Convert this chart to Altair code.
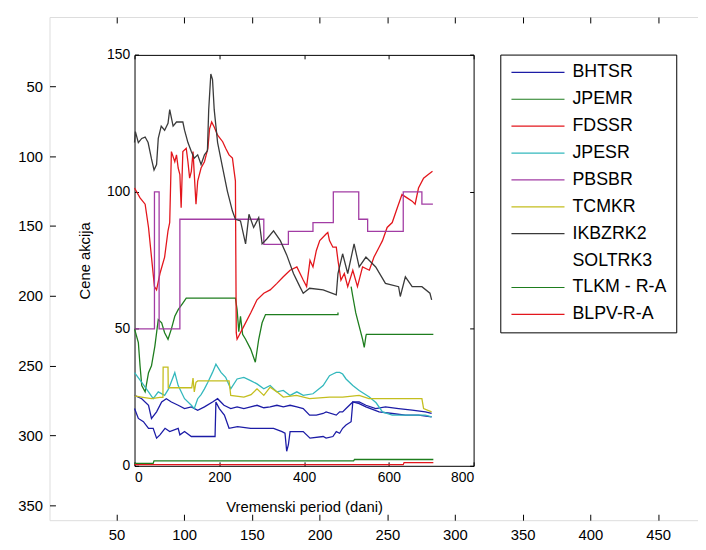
import altair as alt
import pandas as pd

# ---------------- data ----------------
SERIES = ["BHTSR", "JPEMR", "FDSSR", "JPESR", "PBSBR", "TCMKR", "IKBZRK2",
          "SOLTRK3", "TLKM - R-A", "BLPV-R-A"]
LEGEND_COLORS = ["#1c1ca6", "#1e7d1e", "#e3161c", "#33b8bd", "#a23ca4",
                 "#c4be1e", "#3a3a3a", "#ffffff", "#1e7d1e", "#e3161c"]
SOLTRK3_COLOR = "#1c1ca6"

BHTSR = [(0, 25.7), (17, 24.5), (33, 22.1), (40, 17.3), (52, 19.7), (64, 23.3), (75, 24.5),
         (87, 23.3), (103, 22.1), (118, 20.9), (134, 21.5), (149, 20.3), (165, 21.5),
         (184, 23.3), (196, 24.5), (211, 22.1), (227, 20.9), (242, 21.5), (258, 20.9),
         (274, 21.5), (289, 22.1), (305, 21.2), (320, 21.5), (336, 22.1), (351, 21.5),
         (367, 22.1), (383, 21.5), (398, 20.9), (413, 18.5), (429, 18.5), (445, 19.1),
         (452, 19.7), (476, 18.5), (484, 19.7), (491, 19.7), (499, 20.9), (515, 23.3),
         (530, 23.3), (546, 22.1), (569, 20.9), (592, 21.5), (623, 20.9), (655, 20.3),
         (686, 19.7), (701, 19.1)]

JPEMR = [(0, 50), (9, 45), (13, 36.5), (17, 29.3), (25, 27), (33, 34), (40, 36.5), (48, 43.7),
         (56, 53.4), (64, 52.2), (71, 48.6), (79, 46.2), (87, 50), (95, 54.6), (103, 57),
         (114, 59.4), (122, 61.2), (238, 61.2), (242, 57), (246, 49), (250, 54.6), (255, 48),
         (262, 46.2), (274, 42.6), (285, 37.8), (293, 46.2), (301, 52.2), (309, 55.2),
         (480, 55.2), (480, 56), None,
         (511, 65.4), (515, 61.8), (522, 55.8), (530, 51), (538, 46.2), (542, 43.2),
         (546, 47.4), (547, 48), (705, 48)]

FDSSR = [(0, 101.4), (13, 97.8), (25, 95.5), (33, 87), (40, 76.2), (47, 65.4), (52, 64.2),
         (60, 70.2), (71, 76.2), (79, 85.8), (83, 88.8), (87, 114.7), (95, 111), (99, 113.5),
         (103, 108.7), (107, 106.3), (110, 94.2), (114, 114.7), (122, 115.9), (126, 111),
         (130, 105), (134, 107.5), (138, 114.7), (141, 106.3), (145, 95.5), (149, 103.9),
         (157, 108.7), (165, 111), (173, 115.9), (177, 123), (182, 125.5), (188, 123.7),
         (196, 120.7), (208, 118.3), (215, 115.9), (223, 113.5), (231, 112.3), (235, 107.5),
         (238, 104), (240, 48.6), (242, 46.2), (258, 51), (274, 55.8), (289, 60.6), (305, 63),
         (320, 64.2), (336, 66.6), (351, 69), (367, 71.4), (383, 72.6), (398, 67.8),
         (406, 65.4), (414, 75), (421, 72.6), (429, 78.6), (437, 82.2), (452, 84.6),
         (456, 85.2), (460, 82.2), (468, 79.8), (476, 79.8), (480, 75), (487, 67.8),
         (495, 70.2), (503, 65.4), (515, 71.4), (526, 65.4), (538, 72.6), (554, 71.4),
         (565, 76.2), (577, 79.8), (585, 82.2), (596, 87), (608, 88.8), (620, 94.2),
         (631, 99), (643, 97.8), (655, 96.6), (662, 95.5), (670, 101.4), (682, 105),
         (693, 106.3), (703, 107.5)]

JPESR = [(0, 34), (17, 30.5), (33, 27), (44, 24.5), (56, 27), (71, 25.7), (80, 28), (95, 34),
         (103, 29.3), (118, 24.5), (134, 22.1), (141, 20.9), (149, 24.5), (157, 26),
         (165, 28.1), (173, 30.5), (184, 34.1), (192, 37.1), (204, 34.1), (215, 32.3),
         (227, 28.1), (242, 31.7), (258, 32.3), (274, 31.1), (289, 29.9), (305, 28.1),
         (320, 29.3), (336, 27), (351, 27.5), (367, 25.7), (383, 27), (398, 25.7),
         (421, 26.3), (445, 29.3), (460, 32.9), (468, 33.5), (476, 34.1), (484, 34.1),
         (491, 33.5), (499, 31.7), (515, 29.3), (530, 27.5), (554, 25.1), (570, 23),
         (585, 19.7), (608, 18.5), (647, 18.5), (686, 18.5), (701, 17.9)]

PBSBR = [(0, 50), (47, 50), (47, 100), (58, 100), (58, 50), (107, 50), (107, 90), (305, 90),
         (305, 80.8), (363, 80.8), (363, 85.6), (421, 85.6), (421, 88.8), (469, 88.8),
         (469, 100), (529, 100), (529, 90), (550, 90), (550, 85.6), (634, 85.6), (634, 100),
         (678, 100), (678, 95.5), (704, 95.5)]

TCMKR = [(0, 25.5), (20, 25), (40, 24.5), (60, 25), (67, 25), (67.5, 36), (79, 36),
         (79.5, 28.5), (95, 28.5), (135, 28.5), (138, 32), (141, 27), (145, 30.5), (149, 31),
         (223, 31), (227, 25.7), (258, 25.1), (275, 26), (289, 28.1), (305, 25.7), (320, 28.7),
         (336, 27), (351, 25.1), (382, 25.7), (413, 24.5), (460, 25.1), (491, 25.1),
         (530, 25.7), (553, 24.5), (608, 24.5), (678, 24.5), (682, 20.9), (701, 19.7)]

IKBZRK2 = [(0, 118), (2, 122), (9, 118), (17, 119.5), (25, 120), (32, 118), (40, 112),
           (46, 108), (52, 110), (56, 119.5), (63, 124), (71, 122.5), (79, 125), (83, 130),
           (91, 124), (99, 125.5), (107, 125.5), (114, 125.5), (118, 122.5), (126, 118),
           (134, 114.7), (141, 112.3), (149, 113.5), (157, 110), (165, 113.5), (172, 115),
           (175, 130), (180, 143), (184, 141), (188, 130), (196, 118), (208, 108.7),
           (219, 100.3), (231, 93), (238, 90), (250, 89.4), (262, 81), (270, 91.8), (281, 87),
           (293, 90.6), (301, 81), (312, 82.8), (328, 85.8), (344, 82.2), (359, 77),
           (375, 70.2), (390, 65.4), (398, 63), (413, 64.8), (445, 64.2), (476, 62.4),
           (480, 70.2), (491, 77.4), (503, 70.2), (518, 81), (530, 72.6), (546, 76.2),
           (569, 72.6), (592, 66.6), (623, 65.4), (627, 61.8), (639, 69), (655, 65.4),
           (678, 65.4), (697, 63), (701, 60.6)]

SOLTRK3 = [(0, 20.9), (9, 17.3), (21, 16.1), (33, 13.7), (44, 13.7), (52, 10.1), (60, 11.3),
           (72, 13.7), (83, 12.5), (103, 13.7), (107, 11.3), (118, 12.5), (134, 10.7),
           (173, 10.7), (190, 10.7), (192, 23.3), (200, 20.9), (212, 18.5), (223, 13.7),
           (243, 14.3), (274, 13.7), (297, 13.7), (328, 13.7), (348, 12.5), (355, 11.9),
           (359, 5.3), (363, 7.7), (367, 12.5), (398, 12.5), (414, 10.1), (445, 10.7),
           (452, 10.1), (468, 10.7), (476, 12.5), (484, 11.9), (491, 13.7), (499, 14.9),
           (511, 16.1), (515, 23.3), (530, 22.7), (546, 21.5), (577, 19.7), (608, 19.1),
           (639, 18.5), (670, 18.5), (701, 17.9)]

TLKM = [(0, 0.9), (44, 0.9), (46, 1.8), (517, 1.8), (519, 2.3), (705, 2.3)]
BLPV = [(0, 0.4), (634, 0.4), (636, 1.2), (705, 1.2)]

POINTS = {"BHTSR": BHTSR, "JPEMR": JPEMR, "FDSSR": FDSSR, "JPESR": JPESR, "PBSBR": PBSBR,
          "TCMKR": TCMKR, "IKBZRK2": IKBZRK2, "SOLTRK3": SOLTRK3, "TLKM - R-A": TLKM,
          "BLPV-R-A": BLPV}

OUT_X_TICKS = [50, 100, 150, 200, 250, 300, 350, 400, 450]
OUT_Y_TICKS = [50, 100, 150, 200, 250, 300, 350]
IN_X_TICKS = [0, 200, 400, 600, 800]
IN_Y_TICKS = [0, 50, 100, 150]


def build_rows(names):
    rows = []
    for name in names:
        seg = 0
        for i, p in enumerate(POINTS[name]):
            if p is None:
                seg += 1
                continue
            rows.append({"series": name, "seg": f"{name}#{seg}", "day": p[0],
                         "price": p[1], "idx": i})
    return pd.DataFrame(rows)


main_df = build_rows([s for s in SERIES if s != "SOLTRK3"])
sol_df = build_rows(["SOLTRK3"])
dummy = pd.DataFrame({"ox": [100.0], "oy": [100.0], "day": [100.0], "price": [10.0]})

# ---------------- layout ----------------
W, H = 656, 509
OUT_XD = [0.5, 479.5]
OUT_YD = [0.5, 360.5]
IN_XR = [86, 429]
IN_YR = [454, 38.3]
FONT = "Liberation Sans"
LW = 1.3


def ox(axis):
    return alt.X("ox:Q", scale=alt.Scale(domain=OUT_XD, nice=False, zero=False), axis=axis)


def oy(axis):
    return alt.Y("oy:Q", scale=alt.Scale(domain=OUT_YD, reverse=True, nice=False, zero=False),
                 axis=axis)


def ix(axis):
    return alt.X("day:Q", scale=alt.Scale(domain=[0, 800], range=IN_XR, nice=False, zero=False),
                 axis=axis)


def iy(axis):
    return alt.Y("price:Q", scale=alt.Scale(domain=[0, 150], range=IN_YR, nice=False, zero=False),
                 axis=axis)


common = dict(grid=False, domainColor="black", tickColor="black", labelColor="black",
              labelFont=FONT, titleFont=FONT, titleColor="black", titleFontWeight="normal",
              domainWidth=1, tickWidth=1)

invis = alt.Chart(dummy).mark_point(opacity=0)

# outer frame: inward ticks on the bottom edge + left labels
outer1 = invis.encode(
    x=ox(alt.Axis(orient="top", offset=-H, values=OUT_X_TICKS, labels=False, tickSize=6,
                  domain=False, title=None, **common)),
    y=oy(alt.Axis(orient="left", values=OUT_Y_TICKS, ticks=False, tickSize=0, labelPadding=7,
                  domain=False, labelFontSize=15, title=None, **common)),
)
# outer bottom labels + left inward ticks
outer2 = invis.encode(
    x=ox(alt.Axis(orient="bottom", values=OUT_X_TICKS, ticks=False, tickSize=0, domain=False,
                  labelPadding=8, labelFontSize=15, title=None, **common)),
    y=oy(alt.Axis(orient="right", offset=-W, values=OUT_Y_TICKS, labels=False, tickSize=6,
                  domain=False, title=None, **common)),
)
# outer top edge inward ticks
outer3 = invis.encode(
    x=ox(alt.Axis(orient="bottom", offset=-H, values=OUT_X_TICKS, labels=False, tickSize=6,
                  domain=False, title=None, **common)),
    y=oy(None),
)

# inner axes
sol_layer = alt.Chart(sol_df).mark_line(strokeWidth=LW, color=SOLTRK3_COLOR).encode(
    x=ix(alt.Axis(orient="bottom", offset=IN_YR[0] - H, values=IN_X_TICKS, ticks=False,
                  tickSize=0, domain=False, labelPadding=5, labelFontSize=14,
                  title="Vremenski period (dani)", titleFontSize=15, titlePadding=15, **common)),
    y=iy(alt.Axis(orient="left", offset=-IN_XR[0], values=IN_Y_TICKS, ticks=False, tickSize=0,
                  domain=False, labelPadding=5, labelFontSize=14, title="Cene akcija",
                  titleFontSize=15, titlePadding=14, **common)),
    detail="seg:N",
    order="idx:Q",
)

lines = alt.Chart(main_df).mark_line(strokeWidth=LW).encode(
    x=ix(alt.Axis(orient="top", offset=-IN_YR[0], values=IN_X_TICKS, labels=False, tickSize=4,
                  title=None, **common)),
    y=iy(alt.Axis(orient="right", offset=IN_XR[0] - W, values=IN_Y_TICKS, labels=False,
                  tickSize=4, title=None, **common)),
    color=alt.Color("series:N", scale=alt.Scale(domain=SERIES, range=LEGEND_COLORS),
                    legend=alt.Legend(orient="none", legendX=456, legendY=38, title=None,
                                      symbolType="M-1,0H7", symbolSize=180,
                                      symbolStrokeWidth=1.2, symbolOpacity=1,
                                      labelOffset=46, labelFontSize=18, labelFont=FONT,
                                      labelColor="black", rowPadding=9.2, padding=9,
                                      strokeColor="black", fillColor="white")),
    detail="seg:N",
    order="idx:Q",
)

inner3 = alt.Chart(dummy).mark_point(opacity=0).encode(
    x=ix(alt.Axis(orient="bottom", offset=IN_YR[1] - H, values=IN_X_TICKS, labels=False,
                  tickSize=4, title=None, **common)),
    y=iy(alt.Axis(orient="left", offset=-IN_XR[1], values=IN_Y_TICKS, labels=False,
                  tickSize=4, title=None, **common)),
)

chart = alt.layer(outer1, outer2, outer3, sol_layer, lines, inner3).resolve_scale(
    x="independent", y="independent"
).properties(
    width=W, height=H,
    padding={"left": 42, "top": 6, "right": 0, "bottom": 24},
    autosize=alt.AutoSizeParams(type="none"),
).configure_view(stroke="black", strokeWidth=1).configure(background="white")

chart.save("out.html", embed_options={"renderer": "svg", "actions": False})
